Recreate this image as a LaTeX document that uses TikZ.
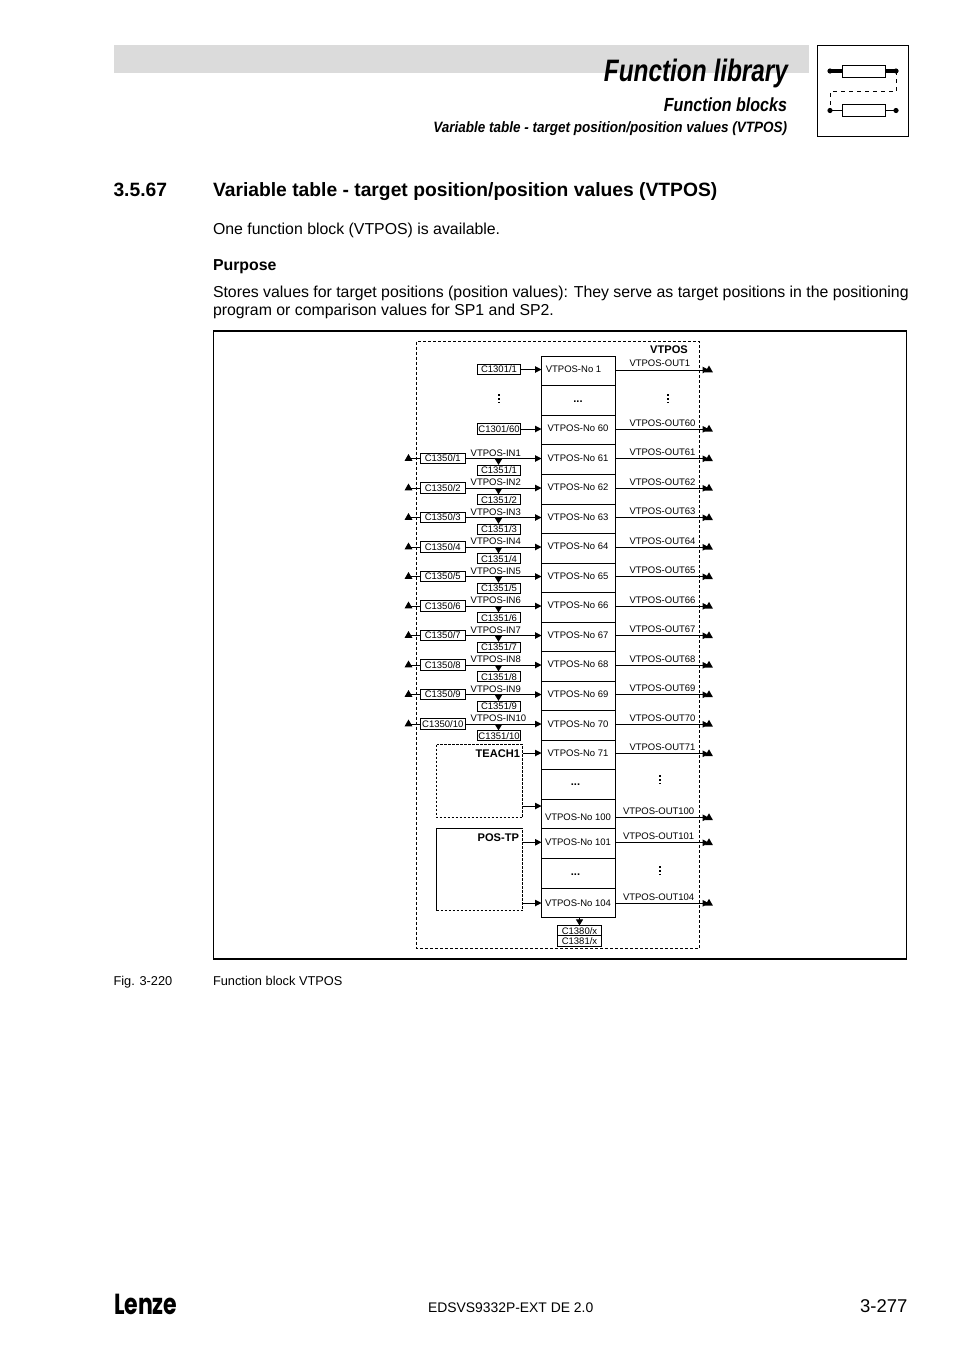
\documentclass[tikz,border=0pt]{standalone}
\usepackage{fontspec}
\setmainfont{Liberation Sans}
\newfontfamily\logofont{Poppins}
\usetikzlibrary{arrows.meta,shapes.geometric}
\newcommand{\dgfont}{\fontsize{9.5}{11}\selectfont}
\newcommand{\dgbold}{\fontsize{11.1}{12}\selectfont\bfseries}
\tikzset{
  x=1pt,y=-1pt,
  every node/.style={inner sep=0pt,outer sep=0pt},
  dg/.style={font=\dgfont},
  rowbox/.style={draw,line width=1pt,anchor=north west,minimum width=74pt},
  codebox/.style={draw,line width=1pt,font=\dgfont,minimum height=10.2pt,anchor=west},
  sig/.style={line width=1pt,-{Triangle[length=6.5pt,width=6.5pt]}},
  plain/.style={line width=1pt},
  uptip/.style={fill=black,regular polygon,regular polygon sides=3,minimum size=9pt},
  dnsmall/.style={-{Triangle[length=6pt,width=7pt]},line width=1pt},
  fbdash/.style={line width=1pt,dash pattern=on 3pt off 2pt},
  vdots/.style={line width=1.5pt,dash pattern=on 1.6pt off 2.2pt},
  head/.style={anchor=base west},
  body/.style={font=\fontsize{15.85}{18}\selectfont,anchor=base west},
}
\begin{document}
\begin{tikzpicture}
\useasboundingbox (0,0) rectangle (954,1350);
\fill[white] (0,0) rectangle (954,1350);
% page header
\fill[black!14] (113.5,45) rectangle (809,73);
\node[anchor=base east,xscale=0.786,font=\fontsize{31}{34}\selectfont\bfseries\itshape] (title) at (788,81) {Function library};
\node[anchor=base east,xscale=0.845,font=\fontsize{19}{22}\selectfont\bfseries\itshape] (sub1) at (787,111) {Function blocks};
\node[anchor=base east,xscale=0.90,font=\fontsize{15}{18}\selectfont\bfseries\itshape] (sub2) at (787,132) {Variable table - target position/position values (VTPOS)};
% icon
\draw[line width=1pt] (817.5,45.5) rectangle (908.5,136);
\draw[line width=3.2pt] (830,71) -- (842,71) (885,71) -- (896,71);
\draw[line width=1pt] (842,65) rectangle (885,77);
\draw[line width=1pt] (842,104.5) rectangle (885,116.5);
\draw[line width=1pt] (830,110.5) -- (842,110.5) (885,110.5) -- (896,110.5);
\draw[line width=1pt,dash pattern=on 4pt off 4pt] (896,71) -- (896,91.5) -- (830,91.5) -- (830,110.5);
\foreach \p in {(830,71),(896,71),(830,110.5),(896,110.5)} \fill \p circle (2.6);
% headings and body
\node[head,font=\fontsize{19.27}{22}\selectfont\bfseries] (secno) at (113.5,196) {3.5.67};
\node[head,font=\fontsize{19.27}{22}\selectfont\bfseries] (sectitle) at (213,196) {Variable table - target position/position values (VTPOS)};
\node[body] (intro) at (213,234) {One function block (VTPOS) is available.};
\node[body,font=\fontsize{15.85}{18}\selectfont\bfseries] (purpose) at (213,270) {Purpose};
\node[body] (p1) at (213,297) {Stores values for target positions (position values): They serve as target positions in the positioning};
\node[body] (p2) at (213,315) {program or comparison values for SP1 and SP2.};
% frames
\draw[line width=1.3pt] (213.5,331) rectangle (906.5,959);
\draw[fbdash] (416.5,341.5) rectangle (699.5,948);
\node[font=\dgbold] (fbname) at (669,349.3) {VTPOS};
% rows
\foreach \i/\t/\b/\lab/\lx/\ly in {
 1/356/385.5/{VTPOS-No 1}/573.5/369.2,
 2/385.5/415/{\dgbold ...}/578/402,
 3/415/444.5/{VTPOS-No 60}/578/428.2,
 4/444.5/474.3/{VTPOS-No 61}/578/458.2,
 5/474.3/504/{VTPOS-No 62}/578/487.2,
 6/504/533.5/{VTPOS-No 63}/578/517.2,
 7/533.5/563/{VTPOS-No 64}/578/546.2,
 8/563/592.5/{VTPOS-No 65}/578/576.2,
 9/592.5/622/{VTPOS-No 66}/578/605.2,
 10/622/651.5/{VTPOS-No 67}/578/635.2,
 11/651.5/681/{VTPOS-No 68}/578/664.7,
 12/681/710.5/{VTPOS-No 69}/578/694.7,
 13/710.5/740.3/{VTPOS-No 70}/578/724.2,
 14/740.3/769.5/{VTPOS-No 71}/578/753.2,
 15/769.5/799.3/{\dgbold ...}/575.5/785,
 16/799.3/828.5/{VTPOS-No 100}/578/817.2,
 17/828.5/858.3/{VTPOS-No 101}/578/842.2,
 18/858.3/888.3/{\dgbold ...}/575.5/875,
 19/888.3/917.3/{VTPOS-No 104}/578/903.2}{
  \pgfmathsetmacro{\hh}{\b-\t}
  \node[rowbox,minimum height=\hh pt] (r\i) at (541.5,\t) {};
  \node[dg] (l\i) at (\lx,\ly) {\lab};
}
% outputs
\foreach \i/\y/\lab/\lx in {
 1/370/VTPOS-OUT1/629.5, 3/429.3/VTPOS-OUT60/629.5, 4/458.8/VTPOS-OUT61/629.5,
 5/488.3/VTPOS-OUT62/629.5, 6/517.8/VTPOS-OUT63/629.5, 7/547.3/VTPOS-OUT64/629.5,
 8/576.8/VTPOS-OUT65/629.5, 9/606.3/VTPOS-OUT66/629.5, 10/635.8/VTPOS-OUT67/629.5,
 11/665.3/VTPOS-OUT68/629.5, 12/694.8/VTPOS-OUT69/629.5, 13/724.3/VTPOS-OUT70/629.5,
 14/753.8/VTPOS-OUT71/629.5, 16/817.8/VTPOS-OUT100/623, 17/842.8/VTPOS-OUT101/623,
 19/903.3/VTPOS-OUT104/623}{
  \node[uptip] (ot\i) at (709,\y) {};
  \draw[sig] (r\i.east |- ot\i.center) -- (ot\i.center);
  \pgfmathsetmacro{\ol}{\y-6.4}
  \node[dg,anchor=west] (ol\i) at (\lx,\ol) {\lab};
}
% direct parameter inputs
\foreach \i/\y/\lab in {1/369.5/{C1301/1},3/429/{C1301/60}}{
  \node[codebox,minimum width=43pt] (p\i) at (477.5,\y) {\lab};
  \draw[sig] (p\i.east) -- (r\i.west |- p\i.east);
}
% inputs IN1..IN10
\foreach \n/\i/\y in {1/4/458.5,2/5/488,3/6/517.5,4/7/547,5/8/576.5,6/9/606,7/10/635.5,8/11/665,9/12/694.5,10/13/724}{
  \node[codebox,minimum width=44.5pt] (a\n) at (420.5,\y) {C1350/\n};
  \node[uptip] (at\n) at (408.5,\y) {};
  \draw[plain] (at\n.center) -- (a\n.west);
  \draw[sig] (a\n.east) -- (r\i.west |- a\n.east);
  \pgfmathsetmacro{\yl}{\y-5.6}
  \pgfmathsetmacro{\yb}{\y+11.6}
  \node[dg,anchor=west] (il\n) at (470.7,\yl) {VTPOS-IN\n};
  \node[codebox,minimum width=43pt] (b\n) at (477.5,\yb) {C1351/\n};
  \draw[dnsmall] (498.5,\y) -- (498.5,\y+6.4);
}
% dots
\draw[vdots] (499,394.3) -- (499,403);
\draw[vdots] (668,394.3) -- (668,403);
\draw[vdots] (660,775.3) -- (660,784);
\draw[vdots] (660,866.3) -- (660,875);
% TEACH1 and POS-TP
\draw[fbdash,dash pattern=on 2.5pt off 1.5pt] (436.5,744.5) rectangle (522.5,817.5);
\node[font=\dgbold,anchor=east] (teach) at (520,753.3) {TEACH1};
\coordinate (te1) at (522.5,753);
\coordinate (te2) at (522.5,806);
\draw[sig] (te1) -- (r14.west |- te1);
\draw[sig] (te2) -- (r16.west |- te2);
\draw[line width=1pt] (522.5,828.5) -- (436.5,828.5) -- (436.5,910.5);
\draw[fbdash,dash pattern=on 2.5pt off 1.5pt] (436.5,910.5) -- (522.5,910.5) -- (522.5,828.5);
\node[font=\dgbold,anchor=east] (postp) at (519,837.3) {POS-TP};
\coordinate (pt1) at (522.5,842.3);
\coordinate (pt2) at (522.5,903);
\draw[sig] (pt1) -- (r17.west |- pt1);
\draw[sig] (pt2) -- (r19.west |- pt2);
% bottom parameters
\node[draw,line width=1pt,font=\dgfont,minimum width=44pt,minimum height=10.5pt] (c1) at (579.5,930.7) {C1380/x};
\node[draw,line width=1pt,font=\dgfont,minimum width=44pt,minimum height=10.5pt] (c2) at (579.5,941.2) {C1381/x};
\draw[dnsmall] (c1.north |- r19.south) -- (c1.north);
% caption
\node[head,font=\fontsize{12.8}{15}\selectfont] (figno) at (113.5,985.5) {Fig. 3-220};
\node[head,font=\fontsize{12.8}{15}\selectfont] (figcap) at (213,985.5) {Function block VTPOS};
% footer
\node[anchor=base west,xscale=0.76,font=\logofont\fontsize{29}{30}\selectfont\bfseries] (logo) at (114,1314) {Lenze};
\node[head,font=\fontsize{13.9}{17}\selectfont] (doc) at (428,1312) {EDSVS9332P-EXT DE 2.0};
\node[anchor=base east,font=\fontsize{18.5}{21}\selectfont] (pg) at (907.5,1312) {3-277};
\end{tikzpicture}
\end{document}
